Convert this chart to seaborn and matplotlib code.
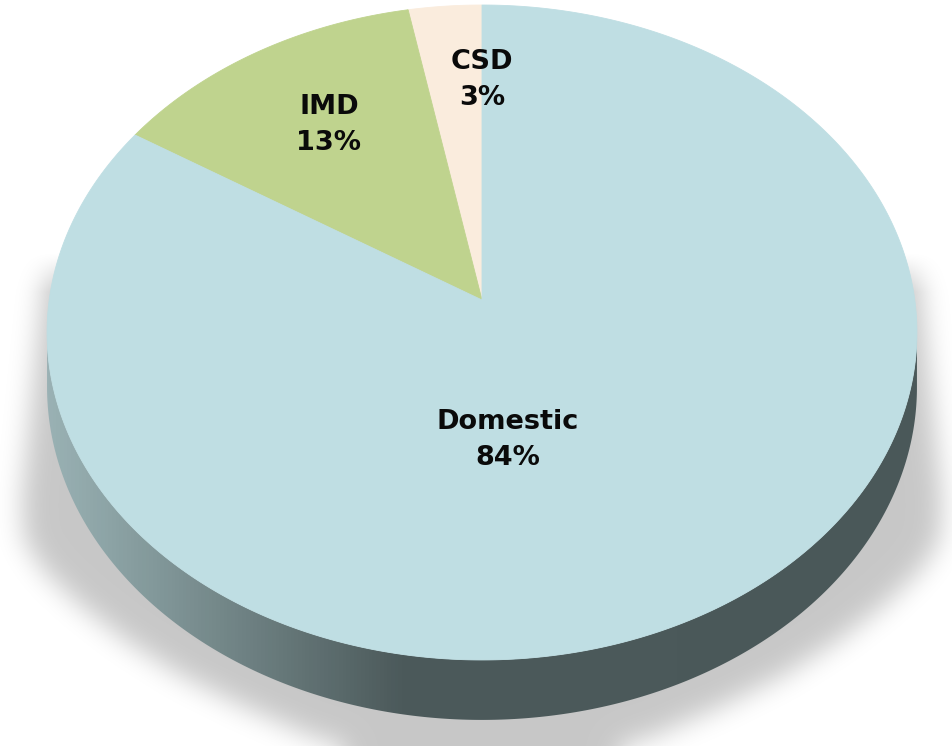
import numpy as np
import matplotlib
matplotlib.use("Agg")
import matplotlib.pyplot as plt
from matplotlib.patches import Polygon
from matplotlib.colors import LinearSegmentedColormap
from matplotlib.path import Path
import matplotlib.transforms as mtransforms
import seaborn as sns

# ---- data ----
categories = ["CSD", "IMD", "Domestic"]
shares = [3, 13, 84]
slice_colors = ["#FAECDD", "#BFD38E", "#BFDEE3"]

sns.set_theme(style="white")
plt.rcParams["font.family"] = ["DejaVu Sans"]

W, H = 953, 746
fig = plt.figure(figsize=(W / 100, H / 100), dpi=100)
fig.patch.set_facecolor("white")

# perspective parameters (pixel space)
CX, K = 482.0, 432.8
PA, PB, PC = 300.0, -294.5, 0.0992
DEPTH = 54.0


class Persp(mtransforms.Transform):
    """Tilted-disc perspective: unit disc -> pixel coordinates."""
    input_dims = 2
    output_dims = 2
    is_separable = False
    has_inverse = False

    def __init__(self, dy=0.0):
        super().__init__()
        self.dy = dy

    def transform_non_affine(self, values):
        values = np.asarray(values, dtype=float)
        u, v = values[:, 0], values[:, 1]
        den = 1.0 + PC * v
        return np.column_stack([CX + K * u / den, (PA + PB * v + self.dy) / den])

    def transform_path_non_affine(self, path):
        pts = []
        tt = np.linspace(0, 1, 60)
        for seg, code in path.iter_bezier():
            pts.append(np.atleast_2d(seg(tt)))
        verts = np.vstack(pts)
        return Path(self.transform_non_affine(verts))


ax0 = fig.add_axes([0, 0, 1, 1])

# side outline
phi = np.linspace(np.pi + np.arcsin(PC), 2 * np.pi - np.arcsin(PC), 400)
circ = np.column_stack([np.cos(phi), np.sin(phi)])
top_edge = Persp(0.0).transform_non_affine(circ)
bot_edge = Persp(DEPTH).transform_non_affine(circ)
side_poly = np.vstack([top_edge, bot_edge[::-1]])

# ---- soft drop shadow (decorative) ----
shadow_left = np.array([(48, 250), (42, 300), (32, 400), (22, 500), (24, 540),
                        (45, 572), (80, 605), (125, 640), (180, 675), (240, 705),
                        (315, 738), (400, 760), (482, 768)])
shadow_right = shadow_left[::-1].copy()
shadow_right[:, 0] = 2 * CX - shadow_right[:, 0]
shadow_outline = np.vstack([shadow_left, shadow_right[1:]])

yy, xx = np.mgrid[0:H, 0:W] + 0.5
q = np.column_stack([xx.ravel(), yy.ravel()])
mask = Path(shadow_outline).contains_points(q).reshape(H, W).astype(float)


def blur(img, sigma):
    rad = int(3 * sigma)
    k = np.exp(-0.5 * (np.arange(-rad, rad + 1) / sigma) ** 2)
    k /= k.sum()
    pad = np.pad(img, rad, mode="edge")
    tmp = np.zeros((pad.shape[0], img.shape[1]))
    for i, w in enumerate(k):
        tmp += w * pad[:, i:i + img.shape[1]]
    res = np.zeros(img.shape)
    for i, w in enumerate(k):
        res += w * tmp[i:i + img.shape[0], :]
    return res


sh = blur(mask, 13)
top_fade = np.clip((yy - 252) / 40, 0, 1)
rgba = np.zeros((H, W, 4))
rgba[..., 3] = 0.22 * sh * top_fade
ax0.imshow(rgba, extent=(0, W, H, 0), zorder=1, interpolation="bilinear")

# side wall (front half of the cylinder) with horizontal gradient
side = Polygon(side_poly, closed=True, facecolor="none", edgecolor="none", zorder=2)
ax0.add_patch(side)
cmap = LinearSegmentedColormap.from_list(
    "side", [(0.0, "#A4BCBF"), (0.12, "#8BA2A4"), (0.42, "#4C5A5B"), (1.0, "#4A5859")])
grad = np.linspace(0, 1, W)[None, :].repeat(2, axis=0)
im = ax0.imshow(grad, extent=(0, W, H, 0), cmap=cmap, aspect="auto", zorder=2)
im.set_clip_path(side)

# top face: pie wedges drawn on the unit disc, projected with perspective
wedges, _ = ax0.pie(shares, colors=slice_colors, startangle=90, counterclock=True,
                    radius=1, center=(0, 0),
                    wedgeprops=dict(linewidth=0.6, antialiased=True))
for w, col in zip(wedges, slice_colors):
    w.set_transform(Persp(0.0) + ax0.transData)
    w.set_edgecolor(col)
    w.set_zorder(3)

ax0.set_aspect("auto")
ax0.set_xlim(0, W)
ax0.set_ylim(H, 0)
ax0.axis("off")

# labels
label_pos = {"CSD": (482, 80), "IMD": (329, 125), "Domestic": (508, 440)}
for cat, val in zip(categories, shares):
    x, y = label_pos[cat]
    ax0.text(x, y, f"{cat}\n{val}%", ha="center", va="center",
             fontsize=19.5, fontweight="bold", color="#0A0A0A",
             linespacing=1.5, zorder=5)

fig.savefig("out.png", dpi=100)
